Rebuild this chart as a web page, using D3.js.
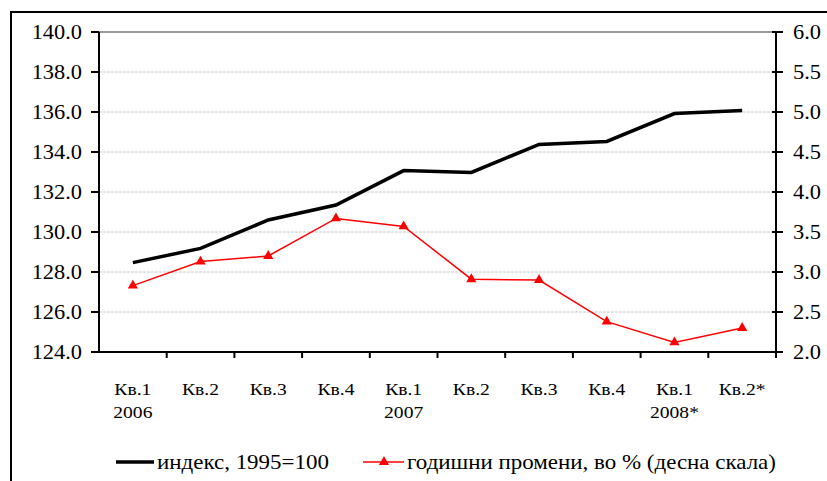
<!DOCTYPE html>
<html><head><meta charset="utf-8">
<script src="https://cdn.jsdelivr.net/npm/d3@7"></script>
<style>body{margin:0;background:#fff}svg{display:block}</style>
</head><body><svg id="c" width="827" height="481"></svg>
<script>
const quarters = ["Кв.1","Кв.2","Кв.3","Кв.4","Кв.1","Кв.2","Кв.3","Кв.4","Кв.1","Кв.2*"];
const years = ["2006","","","","2007","","","","2008*",""];
const indexValues = [128.47,129.18,130.6,131.35,133.07,132.98,134.38,134.53,135.92,136.08];
const changeValues = [2.83,3.13,3.2,3.67,3.57,2.91,2.9,2.38,2.12,2.3];
const leftTicks = [124,126,128,130,132,134,136,138,140];
const rightTicks = [2.0,2.5,3.0,3.5,4.0,4.5,5.0,5.5,6.0];
const seriesNames = ["индекс, 1995=100","годишни промени, во % (десна скала)"];

const FONT = "Liberation Serif";
const svg = d3.select("#c");
const L=99, R=776, T=32, B=352, SX=1.12;
const x = d3.scaleBand().domain(d3.range(quarters.length)).range([L,R]);
const yL = d3.scaleLinear().domain([124,140]).range([B,T]);
const yR = d3.scaleLinear().domain([2,6]).range([B,T]);

function txt(g,xp,yp,s,size,anchor){
  return g.append("text").attr("transform",`translate(${xp},${yp}) scale(${SX},1)`)
    .attr("font-family",FONT).attr("fill","#000")
    .attr("font-size",size).attr("text-anchor",anchor||"start").text(s);
}

// outer border
svg.append("path").attr("d","M11,481 V12 H827").attr("fill","none").attr("stroke","#000").attr("stroke-width",2);

// gridlines
svg.append("g").selectAll("line").data(leftTicks.slice(1)).join("line")
  .attr("x1",L).attr("x2",R).attr("y1",d=>yL(d)).attr("y2",d=>yL(d))
  .attr("stroke",d=>d===140?"#9a9a9a":"#c8c8c8").attr("stroke-width",d=>d===140?2:1)
  .attr("stroke-dasharray",d=>d===140?null:"3,1");

// left axis
const gl = svg.append("g");
gl.append("line").attr("x1",L).attr("x2",L).attr("y1",T).attr("y2",B).attr("stroke","#000").attr("stroke-width",2);
gl.selectAll("line.t").data(leftTicks).join("line").attr("class","t")
  .attr("x1",L-8).attr("x2",L).attr("y1",d=>yL(d)).attr("y2",d=>yL(d)).attr("stroke","#000").attr("stroke-width",2);
leftTicks.forEach(d=>txt(gl,82,yL(d)+6.5,d.toFixed(1),20,"end"));

// right axis
const gr = svg.append("g");
gr.append("line").attr("x1",R).attr("x2",R).attr("y1",T).attr("y2",B).attr("stroke","#000").attr("stroke-width",2);
gr.selectAll("line.t").data(rightTicks).join("line").attr("class","t")
  .attr("x1",R-4).attr("x2",R+7).attr("y1",d=>yR(d)).attr("y2",d=>yR(d)).attr("stroke","#000").attr("stroke-width",2);
rightTicks.forEach(d=>txt(gr,793,yR(d)+6.5,d.toFixed(1),20,"start"));

// bottom axis
const gb = svg.append("g");
gb.append("line").attr("x1",L-8).attr("x2",R+7).attr("y1",B).attr("y2",B).attr("stroke","#000").attr("stroke-width",2);
const bounds = d3.range(quarters.length+1).map(i=>i<quarters.length?x(i):R);
gb.selectAll("line.t").data(bounds.slice(1)).join("line").attr("class","t")
  .attr("x1",d=>d).attr("x2",d=>d).attr("y1",B).attr("y2",B+6).attr("stroke","#000").attr("stroke-width",2);
quarters.forEach((q,i)=>{
  const cx = x(i)+x.bandwidth()/2;
  txt(gb,cx,395,q,17.5,"middle");
  if(years[i]) txt(gb,cx,418,years[i],17.5,"middle");
});

const cxf = (d,i)=>x(i)+x.bandwidth()/2;
// black line
svg.append("path").datum(indexValues)
  .attr("d",d3.line().x(cxf).y(d=>yL(d)))
  .attr("fill","none").attr("stroke","#000").attr("stroke-width",3.5);
// red line
svg.append("path").datum(changeValues)
  .attr("d",d3.line().x(cxf).y(d=>yR(d)))
  .attr("fill","none").attr("stroke","#ff0000").attr("stroke-width",1.5);
const tri = d3.symbol().type(d3.symbolTriangle).size(45);
svg.append("g").selectAll("path").data(changeValues).join("path")
  .attr("d",tri).attr("transform",(d,i)=>`translate(${cxf(d,i)},${yR(d)})`).attr("fill","#ff0000");

// legend
const lg = svg.append("g");
lg.append("line").attr("x1",116).attr("x2",154).attr("y1",462).attr("y2",462).attr("stroke","#000").attr("stroke-width",3.5);
txt(lg,157,469,seriesNames[0],20.5,"start");
lg.append("line").attr("x1",363).attr("x2",404).attr("y1",462).attr("y2",462).attr("stroke","#ff0000").attr("stroke-width",1.5);
lg.append("path").attr("d",tri).attr("transform","translate(384,462)").attr("fill","#ff0000");
txt(lg,407,469,seriesNames[1],20.5,"start");
</script></body></html>
